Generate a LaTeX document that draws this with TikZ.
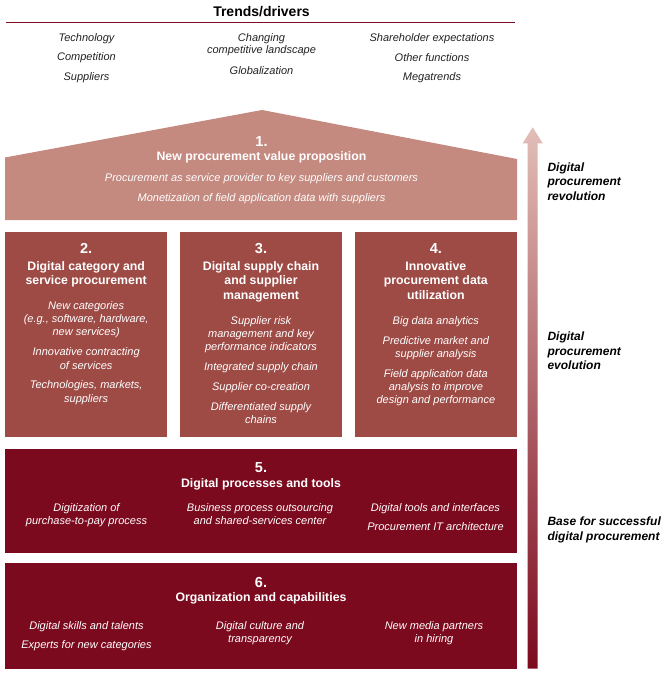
\documentclass[tikz,border=0pt]{standalone}
\usepackage{fontspec}
\setmainfont{Liberation Sans}
\usetikzlibrary{positioning, calc}
\definecolor{roofred}{RGB}{196,137,127}
\definecolor{pillarred}{RGB}{158,75,70}
\definecolor{basered}{RGB}{124,10,30}
\definecolor{linered}{RGB}{123,16,32}
\definecolor{arrowtop}{RGB}{226,190,183}
\definecolor{arrowmid}{RGB}{176,98,92}
\definecolor{trendgray}{RGB}{34,34,34}
\tikzset{
  item/.style={font=\itshape\fontsize{11}{13.3}\selectfont, text=white, align=center, inner sep=0pt, anchor=north},
  head/.style={font=\bfseries\fontsize{12.3}{14.7}\selectfont, text=white, align=center, inner sep=0pt, anchor=north},
  num/.style={font=\bfseries\fontsize{14.5}{15}\selectfont, text=white, inner sep=0pt},
  trend/.style={font=\itshape\fontsize{11}{12.7}\selectfont, text=trendgray, align=center, inner sep=0pt},
  side/.style={font=\bfseries\itshape\fontsize{12}{14.4}\selectfont, align=left, anchor=north west, inner sep=0pt},
  pillar/.style={fill=pillarred, minimum width=162.3pt, minimum height=205pt, inner sep=0pt},
  slab/.style={fill=basered, minimum width=512pt, inner sep=0pt}
}
\begin{document}
\begin{tikzpicture}[x=1pt, y=-1pt, >=latex]
\useasboundingbox (0,0) rectangle (670,682);

% trends
\node[font=\bfseries\fontsize{14}{15}\selectfont, inner sep=0pt] (trends) at (261.5,11.5) {Trends/drivers};
\coordinate (ll) at (6,22.3);
\coordinate (lr) at (515,22.3);
\draw[linered, line width=1.5pt] (ll) -- (lr);
\foreach \t [count=\i] in {Technology, Competition, Suppliers}
  \node[trend] (tl\i) at (86.5, 38.3+19.5*\i-19.5) {\t};
\node[trend] (tm1) at (261.5,44.6) {Changing\\competitive landscape};
\node[trend] (tm2) at (261.5,70.7) {Globalization};
\foreach \t [count=\i] in {Shareholder expectations, Other functions, Megatrends}
  \node[trend] (tr\i) at (432, 38.3+19.5*\i-19.5) {\t};

% roof
\fill[roofred] (5,220) -- (5,157.5) -- (262,110) -- (517,159) -- (517,220) -- cycle;
\node[num] (n1) at (261.5,142) {1.};
\node[head] (h1) at (261.5,151.3) {New procurement value proposition};
\node[item] (i1) at (261.5,173.3) {Procurement as service provider to key suppliers and customers\\[6.5pt]
  Monetization of field application data with suppliers};

% pillars
\node[pillar] (p2) at (86.15,334.5) {};
\node[pillar] (p3) at (261,334.5) {};
\node[pillar] (p4) at (435.85,334.5) {};
\foreach \p/\n in {p2/2, p3/3, p4/4}
  \node[num] (n\n) at ($(\p.north)+(0,16.5)$) {\n.};
\node[head] (h2) at (86.15,261.1) {Digital category and\\service procurement};
\node[head] (h3) at (261,261.1) {Digital supply chain\\and supplier\\management};
\node[head] (h4) at (435.85,261.1) {Innovative\\procurement data\\utilization};
\node[item] (i2) at (86.15,301.2) {New categories\\(e.g., software, hardware,\\new services)\\[6.5pt]
  Innovative contracting\\of services\\[6.5pt]
  Technologies, markets,\\suppliers};
\node[item] (i3) at (261,316.1) {Supplier risk\\management and key\\performance indicators\\[6.5pt]
  Integrated supply chain\\[6.5pt]
  Supplier co-creation\\[6.5pt]
  Differentiated supply\\chains};
\node[item] (i4) at (435.85,316.1) {Big data analytics\\[6.5pt]
  Predictive market and\\supplier analysis\\[6.5pt]
  Field application data\\analysis to improve\\design and performance};

% slab 5
\node[slab, minimum height=104pt] (s5) at (261,501) {};
\node[num] (n5) at (261,468) {5.};
\node[head] (h5) at (261,478.1) {Digital processes and tools};
\node[item] (i5a) at (86.5,503) {Digitization of\\purchase-to-pay process};
\node[item] (i5b) at (260,503) {Business process outsourcing\\and shared-services center};
\node[item] (i5c) at (435.5,503) {Digital tools and interfaces\\[6.5pt]Procurement IT architecture};

% slab 6
\node[slab, minimum height=106pt] (s6) at (261,616) {};
\node[num] (n6) at (261,582.4) {6.};
\node[head] (h6) at (261,592.5) {Organization and capabilities};
\node[item] (i6a) at (86.5,621) {Digital skills and talents\\[6.5pt]Experts for new categories};
\node[item] (i6b) at (260,621) {Digital culture and\\transparency};
\node[item] (i6c) at (434,621) {New media partners\\in hiring};

% arrow
\shade[top color=arrowtop, middle color=arrowmid, bottom color=basered]
  (527.7,668.5) -- (527.7,143.3) -- (522.7,143.3) -- (532.7,127.3) -- (542.7,143.3) -- (537.7,143.3) -- (537.7,668.5) -- cycle;
\node[side] (lrev) at (547.3,162.5) {Digital\\procurement\\revolution};
\node[side] (levo) at (547.3,331.8) {Digital\\procurement\\evolution};
\node[side] (lbase) at (547.3,517) {Base for successful\\digital procurement};

\end{tikzpicture}
\end{document}
